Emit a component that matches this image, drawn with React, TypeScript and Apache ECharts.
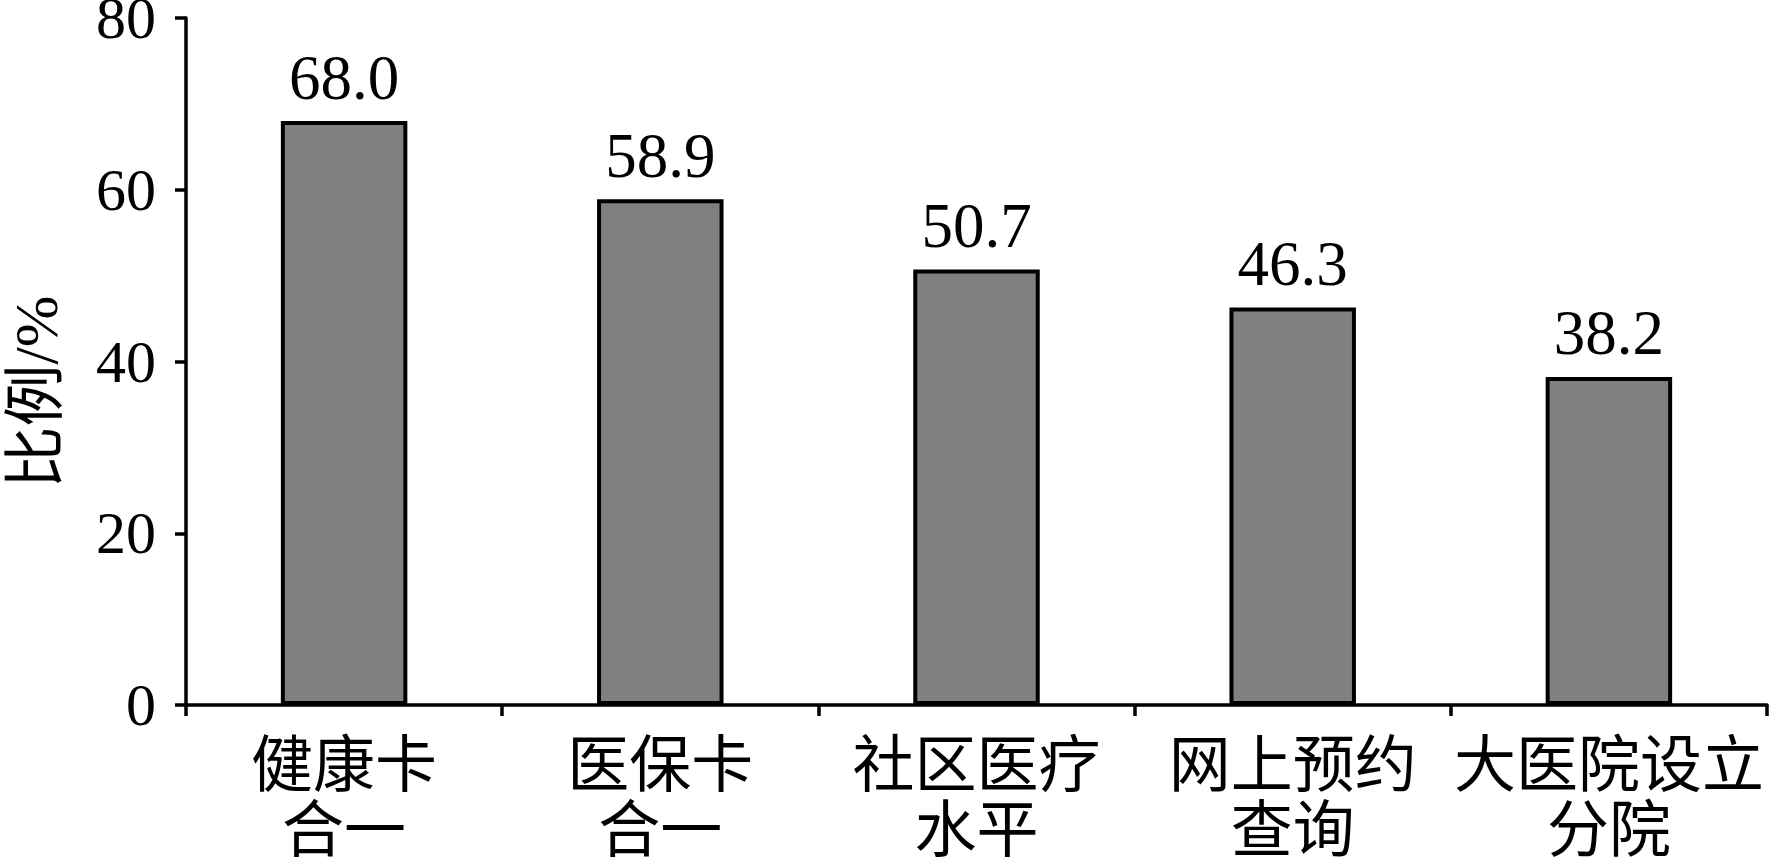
import React, { useEffect, useRef } from "react";
import * as echarts from "echarts";

const categories = ["健康卡\n合一", "医保卡\n合一", "社区医疗\n水平", "网上预约\n查询", "大医院设立\n分院"];
const values = [68.0, 58.9, 50.7, 46.3, 38.2];
const yTicks = { min: 0, max: 80, interval: 20 };
const yName = "比例/%";

const SERIF = "'Liberation Serif', 'Times New Roman', 'Noto Sans CJK SC', serif";

export default function App() {
  const ref = useRef<HTMLDivElement>(null);
  useEffect(() => {
    if (!ref.current) return;
    const chart = echarts.init(ref.current, undefined, { renderer: "svg" });
    chart.setOption({
      animation: false,
      backgroundColor: "#ffffff",
      grid: {
        left: 186,
        right: 2,
        top: 18,
        bottom: 158,
        containLabel: false,
        outerBoundsMode: "none",
      },
      // Rotated y-axis title, placed a little below the axis midpoint
      graphic: [
        {
          type: "text",
          x: 36,
          y: 392,
          rotation: Math.PI / 2,
          style: {
            text: yName,
            fill: "#000",
            font: `62px ${SERIF}`,
            align: "center",
            verticalAlign: "middle",
          },
        },
      ],
      xAxis: {
        type: "category",
        data: categories,
        axisLine: { lineStyle: { color: "#000", width: 3.5 } },
        axisTick: { show: true, length: 11, lineStyle: { color: "#000", width: 3.5 } },
        axisLabel: {
          color: "#000",
          fontFamily: SERIF,
          fontSize: 62,
          lineHeight: 65,
          margin: 28,
          interval: 0,
        },
      },
      yAxis: {
        type: "value",
        min: yTicks.min,
        max: yTicks.max,
        interval: yTicks.interval,
        splitLine: { show: false },
        axisLine: { show: true, lineStyle: { color: "#000", width: 3.5 } },
        axisTick: { show: true, length: 11, lineStyle: { color: "#000", width: 3.5 } },
        axisLabel: { color: "#000", fontFamily: SERIF, fontSize: 60, margin: 30 },
      },
      series: [
        {
          type: "bar",
          data: values,
          barWidth: "40%",
          itemStyle: { color: "#808080", borderColor: "#000", borderWidth: 4 },
          label: {
            show: true,
            position: "top",
            distance: 12,
            color: "#000",
            fontFamily: SERIF,
            fontSize: 63,
            formatter: (p: any) => Number(p.value).toFixed(1),
          },
        },
      ],
    });
    return () => chart.dispose();
  }, []);
  return (
    <div
      ref={ref}
      style={{ position: "fixed", left: 0, top: 0, width: 1769, height: 863, background: "#fff" }}
    />
  );
}
